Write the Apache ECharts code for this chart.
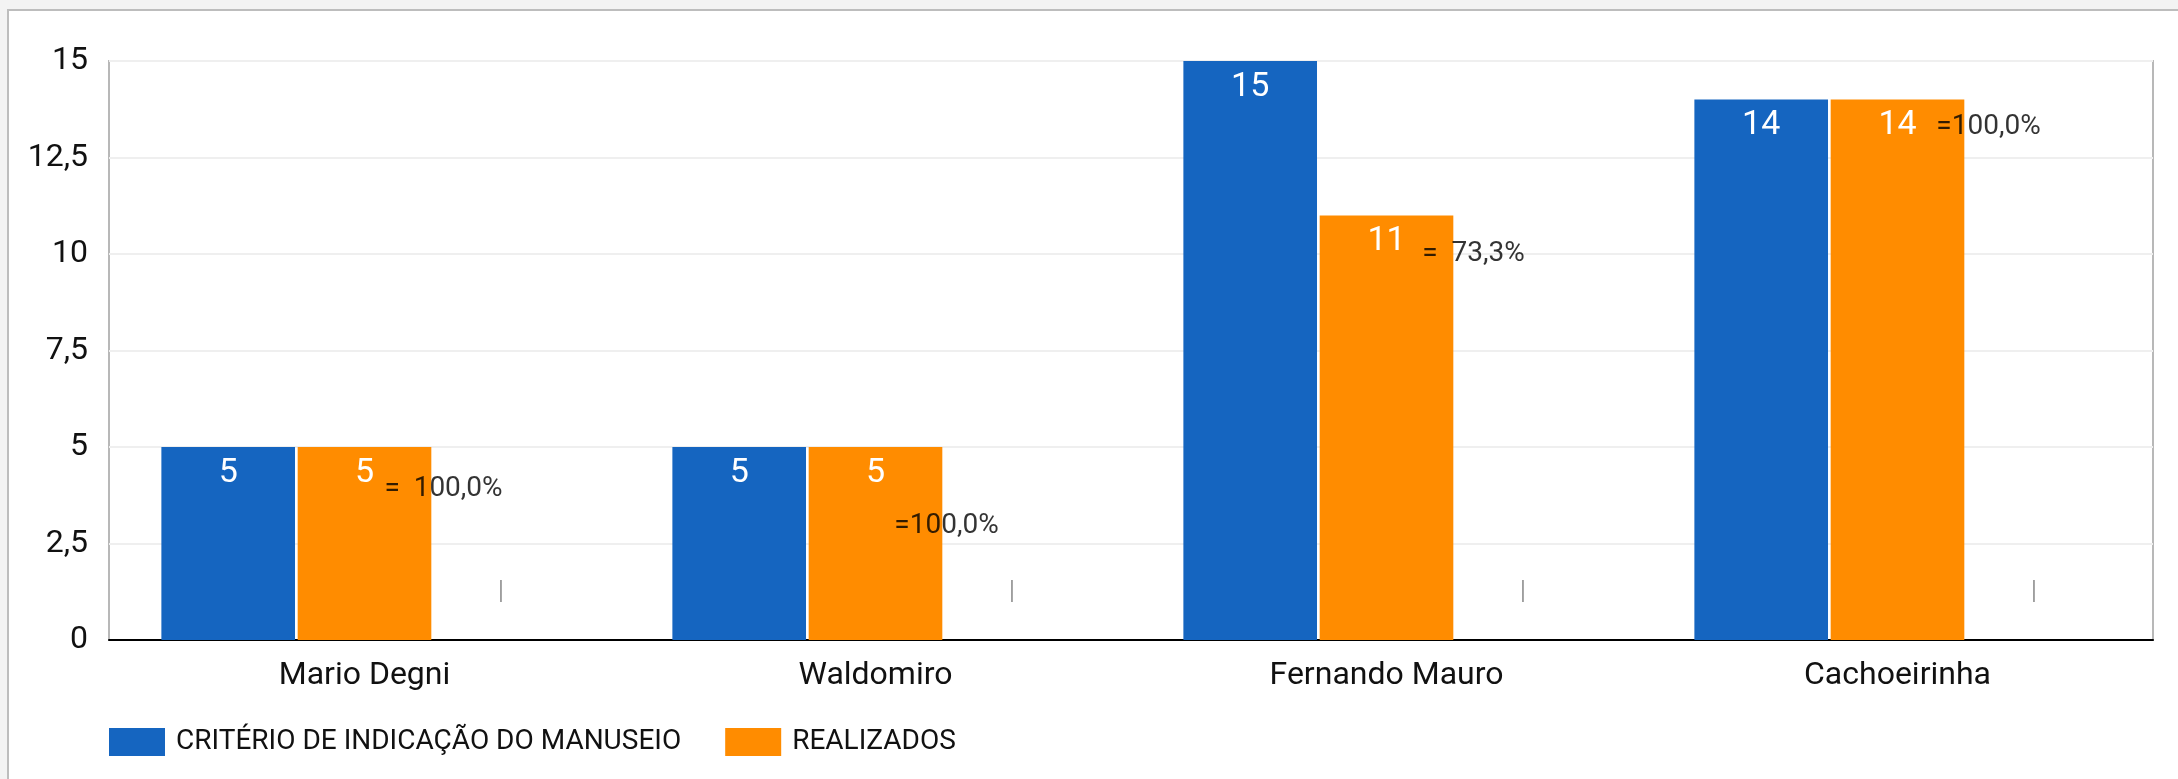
<!DOCTYPE html>
<html>
<head>
<meta charset="utf-8">
<title>Critério x Realizados</title>
<script src="https://cdn.jsdelivr.net/npm/echarts@6/dist/echarts.min.js"></script>
<style>
    html, body { margin: 0; padding: 0; background: #f3f3f3; overflow: hidden; }
    .frame {
        position: absolute; left: 7px; top: 9px; width: 2200px; height: 800px;
        background: #fff; border-left: 2px solid #bdbdbd; border-top: 2px solid #bdbdbd;
    }
    #chart { position: absolute; left: 0; top: 0; width: 2178px; height: 779px; }
</style>
</head>
<body>
<div class="frame"></div>
<div id="chart"></div>
<script>
    // data
    const categories = ['Mario Degni', 'Waldomiro', 'Fernando Mauro', 'Cachoeirinha'];
    const criterio = [5, 5, 15, 14];
    const realizados = [5, 5, 11, 14];
    const spacer = [0, 0, 0, 0];
    const pctLabels = ['=  100,0%', '=100,0%', '=  73,3%', '=100,0%'];
    const pctLevels = [3.92, 2.96, 10.0, 13.3];

    // where each percent note sits to the right of its category (px)
    const pctShift = [79, 71, 87, 91];

    const FONT = 'Roboto';
    const BLUE = '#1565c0';
    const ORANGE = '#ff8c00';

    const chart = echarts.init(document.getElementById('chart'), null, { renderer: 'canvas' });

    chart.setOption({
        animation: false,
        backgroundColor: 'transparent',
        textStyle: { fontFamily: FONT },
        grid: {
            left: 109, right: 25, top: 61, bottom: 139,
            show: true, borderColor: '#b8b8b8', borderWidth: 2,
        },
        legend: {
            data: ['CRITÉRIO DE INDICAÇÃO DO MANUSEIO', 'REALIZADOS'],
            left: 109, top: 728, padding: 0,
            itemWidth: 56, itemHeight: 28, itemGap: 44,
            icon: 'rect',
            textStyle: { fontFamily: FONT, fontSize: 28, color: '#111', padding: [0, 0, 0, 6] },
        },
        xAxis: {
            type: 'category',
            data: categories,
            axisLine: { lineStyle: { color: '#000', width: 2 } },
            axisTick: { show: false },
            axisLabel: { fontFamily: FONT, fontSize: 32, color: '#111', margin: 20 },
        },
        yAxis: {
            type: 'value',
            min: 0, max: 15, interval: 2.5,
            axisLine: { show: false },
            axisTick: { show: false },
            splitLine: { lineStyle: { color: '#efefef', width: 2 } },
            axisLabel: {
                fontFamily: FONT, fontSize: 32, color: '#111', margin: 21,
                formatter: v => String(v).replace('.', ','),
            },
        },
        series: [
            {
                name: 'CRITÉRIO DE INDICAÇÃO DO MANUSEIO',
                type: 'bar',
                data: criterio,
                barCategoryGap: '20.5%',
                barGap: '2%',
                itemStyle: { color: BLUE },
                label: { show: true, position: 'insideTop', distance: 9, color: '#fff', fontSize: 34, fontFamily: FONT },
            },
            {
                name: 'REALIZADOS',
                type: 'bar',
                data: realizados,
                itemStyle: { color: ORANGE },
                label: { show: true, position: 'insideTop', distance: 9, color: '#fff', fontSize: 34, fontFamily: FONT },
            },
            {
                name: 'spacer',
                type: 'bar',
                data: spacer,
                itemStyle: { color: 'transparent' },
                label: {
                    show: true, position: 'top', distance: 35,
                    formatter: '|', color: '#9e9e9e', fontSize: 26, fontFamily: FONT,
                },
            },
            {
                name: 'pct',
                type: 'scatter',
                symbolSize: 0,
                z: 10,
                data: pctLevels.map((v, i) => ({
                    value: [i, v],
                    label: { offset: [pctShift[i], 0] },
                })),
                label: {
                    show: true, position: 'inside',
                    formatter: p => pctLabels[p.dataIndex],
                    color: '#000', fontSize: 28, fontFamily: FONT,
                },
            },
        ],
    });
</script>
</body>
</html>
